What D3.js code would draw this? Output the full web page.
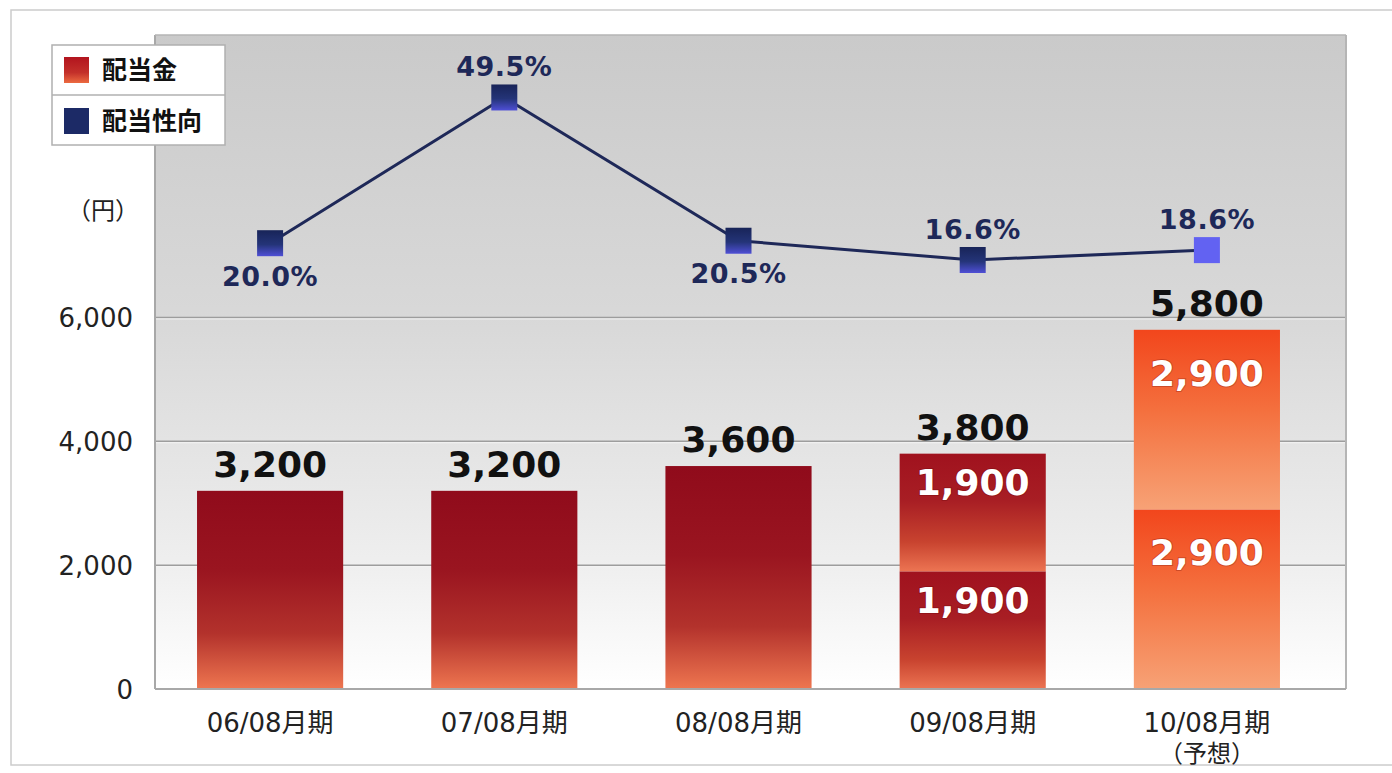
<!DOCTYPE html>
<html>
<head>
<meta charset="utf-8">
<script src="https://cdn.jsdelivr.net/npm/d3@7"></script>
<style>
  body { margin: 0; background: #fff; }
  text { font-family: "DejaVu Sans", "Noto Sans CJK JP", sans-serif; }
</style>
</head>
<body>
<svg id="chart" width="1392" height="773"></svg>
<script>
// data
const categories = ['06/08月期', '07/08月期', '08/08月期', '09/08月期', '10/08月期'];
const subLabels = ['', '', '', '', '（予想）'];
const lowerPart = [3200, 3200, 3600, 1900, 2900];   // 期末 (or whole year)
const upperPart = [0, 0, 0, 1900, 2900];            // 中間
const totals = [3200, 3200, 3600, 3800, 5800];
const payoutRatio = [20.0, 49.5, 20.5, 16.6, 18.6];
const ratioLabelSide = ['below', 'above', 'below', 'above', 'above'];
const barKind = ['full', 'full', 'full', 'split', 'forecast'];
const yTicks = [0, 2000, 4000, 6000];

const svg = d3.select('#chart');
const defs = svg.append('defs');

const plot = { left: 155, right: 1346, top: 35, bottom: 689 };

// gradients
function vGrad(id, stops) {
  const g = defs.append('linearGradient').attr('id', id)
    .attr('x1', 0).attr('y1', 0).attr('x2', 0).attr('y2', 1);
  stops.forEach(s => g.append('stop').attr('offset', s[0]).attr('stop-color', s[1]));
}
vGrad('bgGrad', [[0, '#cacaca'], [0.45, '#d9d9d9'], [0.8, '#eeeeee'], [1, '#ffffff']]);
vGrad('fullGrad', [[0, '#900b1b'], [0.4, '#9a1520'], [0.72, '#b3322c'], [1, '#ee7650']]);
vGrad('splitGrad', [[0, '#a0121e'], [0.4, '#a81e24'], [0.75, '#c8432f'], [1, '#ec7452']]);
vGrad('fcGrad', [[0, '#f2461c'], [0.45, '#f4703e'], [1, '#f7a276']]);
vGrad('markGrad', [[0, '#182458'], [0.55, '#243478'], [1, '#4f4fd6']]);
vGrad('legRed', [[0, '#b2141e'], [0.6, '#c3302a'], [1, '#ec6a40']]);

// outer frame
svg.append('rect').attr('x', 11).attr('y', 10).attr('width', 1395).attr('height', 755)
  .attr('fill', '#fff').attr('stroke', '#cccccc').attr('stroke-width', 1.5);

// plot background
svg.append('rect').attr('x', plot.left).attr('y', plot.top)
  .attr('width', plot.right - plot.left).attr('height', plot.bottom - plot.top)
  .attr('fill', 'url(#bgGrad)');

// scales
const x = d3.scaleBand().domain(categories).range([153, 1324])
  .paddingInner(0.376).paddingOuter(0.188);
const y = d3.scaleLinear().domain([0, 10560]).range([plot.bottom, plot.top]);
const yPct = d3.scaleLinear().domain([0, 50]).range([342, 95]);

// grid lines
const grid = svg.append('g');
yTicks.filter(d => d > 0).forEach(t => {
  grid.append('line').attr('x1', plot.left).attr('x2', plot.right)
    .attr('y1', y(t)).attr('y2', y(t)).attr('stroke', '#9d9d9d').attr('stroke-width', 1.5);
  grid.append('line').attr('x1', plot.left).attr('x2', plot.right)
    .attr('y1', y(t) + 1.5).attr('y2', y(t) + 1.5).attr('stroke', '#f4f4f4').attr('stroke-width', 1);
});

// y axis
const yAxis = svg.append('g').attr('transform', `translate(${plot.left},0)`)
  .call(d3.axisLeft(y).tickValues(yTicks).tickSize(0).tickPadding(22)
    .tickFormat(d3.format(',')));
yAxis.select('.domain').remove();
yAxis.selectAll('text').attr('font-size', 26).attr('fill', '#222').attr('dy', '0.36em');

svg.append('text').attr('x', 103).attr('y', 219).attr('text-anchor', 'middle')
  .attr('font-size', 24).attr('fill', '#222').text('（円）');

// bars
const stacked = d3.stack().keys(['lower', 'upper'])(
  categories.map((c, i) => ({ cat: c, lower: lowerPart[i], upper: upperPart[i] })));

const gradFor = i => barKind[i] === 'full' ? 'url(#fullGrad)'
  : barKind[i] === 'split' ? 'url(#splitGrad)' : 'url(#fcGrad)';

stacked.forEach(layer => {
  svg.append('g').selectAll('rect')
    .data(layer.filter(d => d[1] > d[0]))
    .join('rect')
    .attr('x', d => x(d.data.cat))
    .attr('width', x.bandwidth())
    .attr('y', d => y(d[1]))
    .attr('height', d => y(d[0]) - y(d[1]))
    .attr('fill', d => gradFor(categories.indexOf(d.data.cat)));
});

// labels inside split bars
stacked.forEach(layer => {
  svg.append('g').selectAll('text')
    .data(layer.filter(d => d[1] > d[0] && barKind[categories.indexOf(d.data.cat)] !== 'full'))
    .join('text')
    .attr('x', d => x(d.data.cat) + x.bandwidth() / 2)
    .attr('y', d => y(d[1]) + (y(d[0]) - y(d[1])) * 0.24)
    .attr('dy', '0.36em')
    .attr('text-anchor', 'middle')
    .attr('font-size', 36).attr('font-weight', 'bold').attr('fill', '#fff')
    .style('paint-order', 'stroke').attr('stroke', 'rgba(90,0,0,0.25)').attr('stroke-width', 2)
    .text(d => d3.format(',')(d[1] - d[0]));
});

// total labels
svg.append('g').selectAll('text')
  .data(totals)
  .join('text')
  .attr('x', (d, i) => x(categories[i]) + x.bandwidth() / 2)
  .attr('y', d => y(d) - 14)
  .attr('text-anchor', 'middle')
  .attr('font-size', 36).attr('font-weight', 'bold').attr('fill', '#111')
  .text(d => d3.format(',')(d));

// plot border
svg.append('line').attr('x1', plot.left).attr('x2', plot.left)
  .attr('y1', plot.top).attr('y2', plot.bottom).attr('stroke', '#a8a8a8').attr('stroke-width', 2);
svg.append('line').attr('x1', plot.right).attr('x2', plot.right)
  .attr('y1', plot.top).attr('y2', plot.bottom).attr('stroke', '#b5b5b5').attr('stroke-width', 2);
svg.append('line').attr('x1', plot.left).attr('x2', plot.right)
  .attr('y1', plot.top).attr('y2', plot.top).attr('stroke', '#b5b5b5').attr('stroke-width', 1.5);
svg.append('line').attr('x1', plot.left).attr('x2', plot.right)
  .attr('y1', plot.bottom).attr('y2', plot.bottom).attr('stroke', '#a8a8a8').attr('stroke-width', 2);

// x labels
const xl = svg.append('g');
categories.forEach((c, i) => {
  const cx = x(c) + x.bandwidth() / 2;
  xl.append('text').attr('x', cx).attr('y', 732).attr('text-anchor', 'middle')
    .attr('font-size', 26).attr('fill', '#222').text(c);
  if (subLabels[i]) {
    xl.append('text').attr('x', cx).attr('y', 762).attr('text-anchor', 'middle')
      .attr('font-size', 24).attr('fill', '#222').text(subLabels[i]);
  }
});

// payout ratio line
const cx = (d, i) => x(categories[i]) + x.bandwidth() / 2;
svg.append('path')
  .datum(payoutRatio)
  .attr('d', d3.line().x(cx).y(d => yPct(d)))
  .attr('fill', 'none').attr('stroke', '#1e2858').attr('stroke-width', 3);

svg.append('g').selectAll('rect')
  .data(payoutRatio)
  .join('rect')
  .attr('x', (d, i) => cx(d, i) - 13)
  .attr('y', d => yPct(d) - 13)
  .attr('width', 26).attr('height', 26)
  .attr('fill', (d, i) => barKind[i] === 'forecast' ? '#6262f2' : 'url(#markGrad)');

svg.append('g').selectAll('text')
  .data(payoutRatio)
  .join('text')
  .attr('x', cx)
  .attr('y', (d, i) => yPct(d) + (ratioLabelSide[i] === 'above' ? -31 : 33))
  .attr('dy', '0.36em')
  .attr('text-anchor', 'middle')
  .attr('font-size', 27).attr('font-weight', 'bold').attr('fill', '#1e2858')
  .attr('letter-spacing', 0.5)
  .text(d => d.toFixed(1) + '%');

// legend
const leg = svg.append('g');
leg.append('rect').attr('x', 52).attr('y', 45).attr('width', 173).attr('height', 100)
  .attr('fill', '#fff').attr('stroke', '#b0b0b0').attr('stroke-width', 1.5);
leg.append('line').attr('x1', 52).attr('x2', 225).attr('y1', 95).attr('y2', 95)
  .attr('stroke', '#b0b0b0').attr('stroke-width', 1.5);
const legendItems = [
  { label: '配当金', fill: 'url(#legRed)' },
  { label: '配当性向', fill: '#1c2a66' }
];
legendItems.forEach((it, i) => {
  const cy = 70 + i * 51;
  leg.append('rect').attr('x', 64).attr('y', cy - 13).attr('width', 25).attr('height', 26)
    .attr('fill', it.fill);
  leg.append('text').attr('x', 102).attr('y', cy).attr('dy', '0.36em')
    .attr('font-size', 25).attr('font-weight', 'bold').attr('fill', '#111')
    .text(it.label);
});
</script>
</body>
</html>
